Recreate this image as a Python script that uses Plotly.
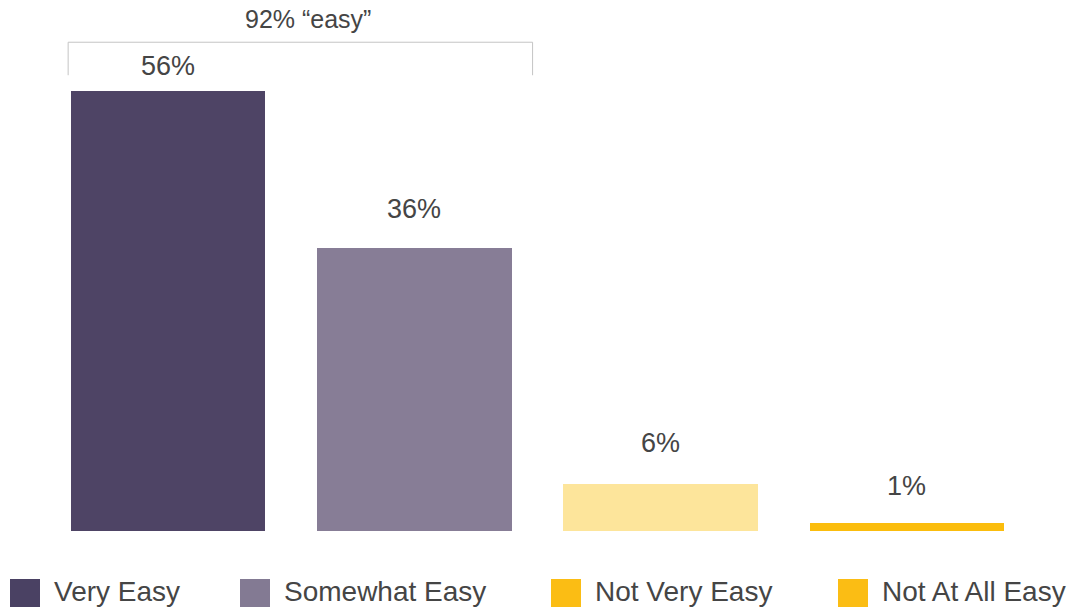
import plotly.graph_objects as go

categories = ["Very Easy", "Somewhat Easy", "Not Very Easy", "Not At All Easy"]
values = [56, 36, 6, 1]
bar_colors = ["#4e4465", "#877d96", "#fde59b", "#fbbd0d"]
legend_colors = ["#4a4163", "#837a93", "#fbbd14", "#fbbd14"]
bracket_label = "92% \u201ceasy\u201d"

W, H = 1086, 608
PX_X0, PX_X1 = 45, 1030
PX_YTOP, PX_YBOT = 10, 531
YMAX = 66.3

fig = go.Figure()
fig.add_trace(go.Bar(
    x=list(range(len(categories))), y=values,
    marker=dict(color=bar_colors, line=dict(width=0)),
    width=0.79, showlegend=False, hoverinfo="skip",
))

font = "Liberation Sans, Arial, sans-serif"
label_shift = [8, 22, 24, 20]
for i, v in enumerate(values):
    fig.add_annotation(x=i, y=v, text=f"{v}%", showarrow=False,
                       yanchor="bottom", yshift=label_shift[i],
                       font=dict(family=font, size=27, color="#454545"))

# bracket over "easy" bars
bx0, bx1, by, bdrop = -0.406, 1.48, 62.2, 58.0
fig.add_shape(type="path", xref="x", yref="y",
              path=f"M {bx0} {bdrop} L {bx0} {by} L {bx1} {by} L {bx1} {bdrop}",
              line=dict(color="#c4c4c4", width=1))
fig.add_annotation(x=(bx0 + bx1) / 2 + 0.03, y=by, text=bracket_label, showarrow=False,
                   yanchor="bottom", yshift=7,
                   font=dict(family=font, size=25, color="#454545"))

# manual legend
sw_left = [10, 240, 551, 838]
for name, col, lx in zip(categories, legend_colors, sw_left):
    fig.add_shape(type="rect", xref="paper", yref="paper",
                  x0=lx / W, x1=(lx + 30) / W,
                  y0=(H - 607) / H, y1=(H - 579) / H,
                  fillcolor=col, line=dict(width=0))
    fig.add_annotation(xref="paper", yref="paper", x=(lx + 42) / W, y=(H - 591) / H,
                       text=name, showarrow=False, xanchor="left", yanchor="middle",
                       font=dict(family=font, size=28, color="#454545"))

fig.update_layout(
    width=W, height=H,
    margin=dict(l=0, r=0, t=0, b=0),
    paper_bgcolor="white", plot_bgcolor="white",
    xaxis=dict(domain=[PX_X0 / W, PX_X1 / W], range=[-0.5, 3.5],
               showticklabels=False, showgrid=False, zeroline=False, showline=False),
    yaxis=dict(domain=[(H - PX_YBOT) / H, (H - PX_YTOP) / H], range=[0, YMAX],
               showticklabels=False, showgrid=False, zeroline=False, showline=False),
    bargap=0,
)

fig.write_html("out.html")
